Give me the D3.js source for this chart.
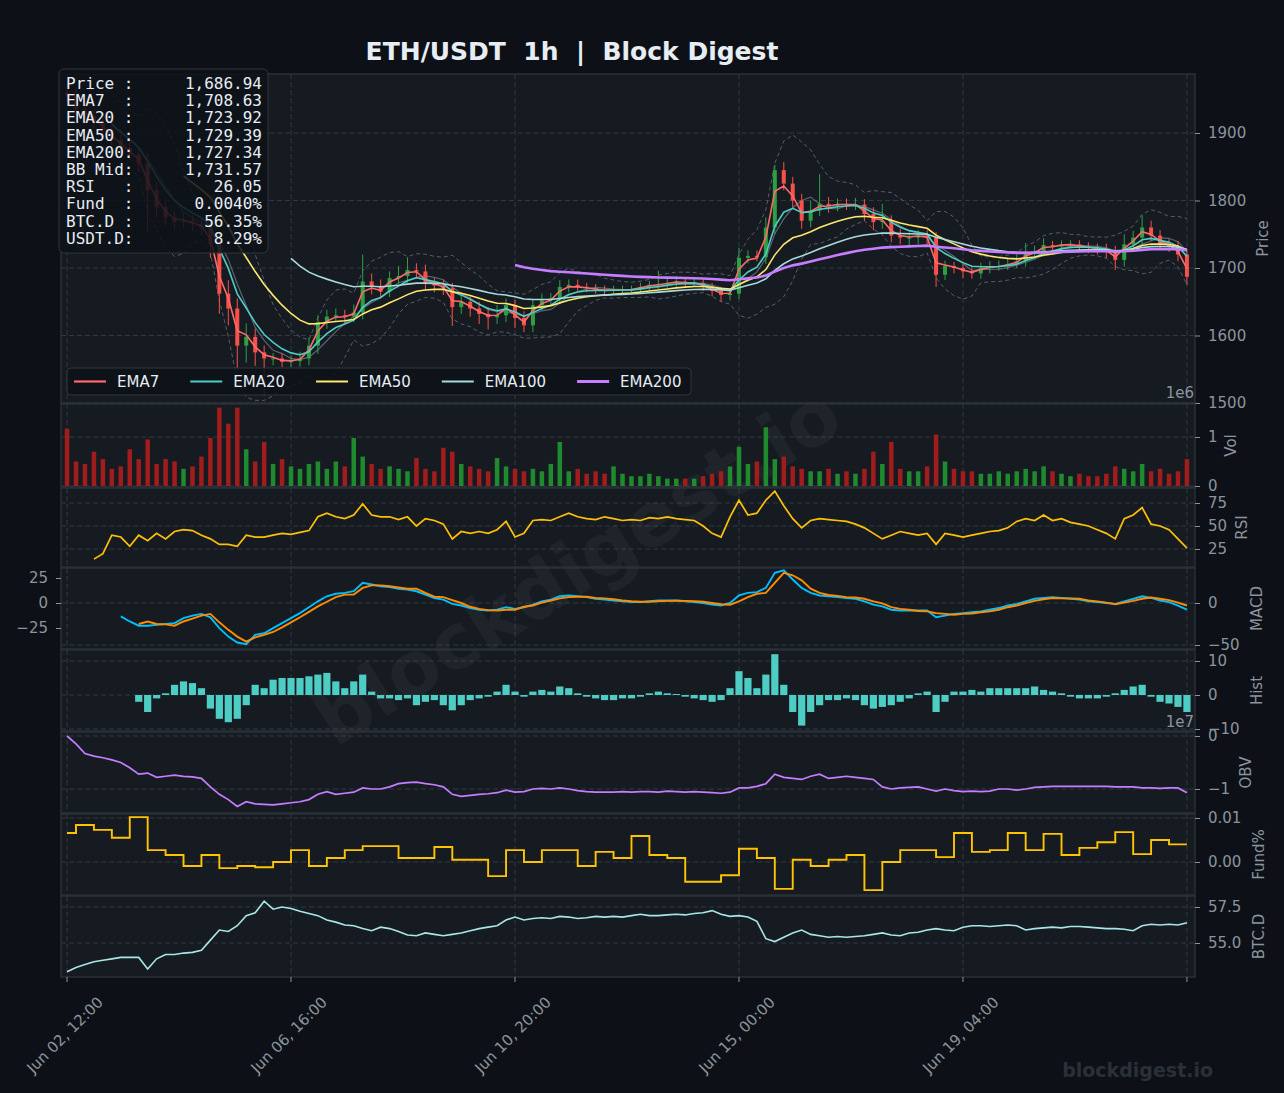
<!DOCTYPE html>
<html>
<head>
<meta charset="utf-8">
<title>ETH/USDT 1h | Block Digest</title>
<script src="https://cdn.jsdelivr.net/npm/d3@7/dist/d3.min.js"></script>
<style>
  body { margin: 0; background: #0d1117; }
  svg text { font-family: "DejaVu Sans", sans-serif; }
  svg text.mono { font-family: "DejaVu Sans Mono", monospace; }
</style>
</head>
<body>
<div id="chart"></div>
<script>
// ---- data, one sample every 4 hours from Jun 02 12:00 ----
var firstOpen = 1960;
var closes = [
  1955,1935,1925,1915,1905,1890,1878,1868,1855,1815,
  1790,1775,1768,1770,1765,1760,1735,1662,1640,1585,
  1598,1575,1566,1566,1561,1562,1566,1585,1620,1628,
  1630,1628,1634,1680,1673,1665,1685,1688,1697,1695,
  1677,1674,1670,1642,1650,1640,1632,1627,1630,1645,
  1626,1615,1645,1652,1655,1672,1675,1672,1670,1668,
  1666,1668,1668,1668,1672,1675,1676,1678,1680,1678,
  1678,1672,1666,1660,1662,1715,1718,1716,1760,1845,
  1825,1800,1770,1785,1795,1792,1795,1794,1794,1780,
  1768,1770,1748,1745,1745,1748,1745,1690,1703,1700,
  1695,1692,1700,1702,1703,1706,1710,1722,1725,1734,
  1732,1735,1735,1732,1730,1728,1725,1712,1735,1745,
  1760,1748,1735,1732,1720,1687
];
var wickUp = [
  10,12,8,10,8,10,8,10,10,15, 12,10,10,12,8,10,8,15,20,15,
  20,12,10,8,8,8,10,12,10,10, 10,8,12,40,12,10,10,15,19,10,
  10,8,8,8,10,8,10,10,15,10, 8,10,8,10,8,10,8,8,6,6,
  6,6,6,6,6,6,20,8,8,6, 6,6,6,6,6,15,8,8,15,8,
  12,10,10,15,44,10,8,8,10,8, 10,25,8,10,8,8,8,8,8,6,
  6,8,8,8,8,8,10,15,8,10, 6,6,6,6,6,6,8,8,15,10,
  18,10,8,8,8,8
];
var wickDn = [
  8,8,10,8,10,8,10,8,12,60, 15,12,10,8,10,12,20,30,25,35,
  25,20,55,10,8,8,8,10,12,10, 8,10,8,10,12,10,8,8,10,10,
  10,10,10,28,10,12,15,18,10,10, 15,10,10,8,8,8,8,6,6,6,
  6,6,6,6,6,6,6,6,6,6, 6,6,8,10,8,8,8,6,10,10,
  10,10,12,10,8,10,8,8,8,10, 12,10,10,10,12,10,10,18,8,8,
  10,8,8,8,6,6,6,8,8,8, 8,6,6,8,8,8,10,15,10,8,
  10,8,8,8,10,12
];
// volume, millions
var volume = [
  1.17,0.5,0.45,0.7,0.55,0.35,0.4,0.75,0.55,0.95,
  0.45,0.55,0.5,0.35,0.4,0.6,0.98,1.6,1.27,1.6,
  0.75,0.5,0.9,0.45,0.55,0.4,0.35,0.45,0.5,0.35,
  0.5,0.4,0.98,0.6,0.45,0.35,0.4,0.35,0.3,0.57,
  0.35,0.3,0.78,0.7,0.45,0.4,0.35,0.3,0.57,0.4,
  0.35,0.3,0.35,0.3,0.45,0.9,0.3,0.35,0.25,0.3,
  0.25,0.4,0.25,0.2,0.2,0.25,0.2,0.15,0.15,0.15,
  0.15,0.2,0.25,0.3,0.4,0.8,0.45,0.5,1.2,0.55,
  0.6,0.4,0.35,0.3,0.3,0.35,0.25,0.3,0.25,0.35,
  0.7,0.45,0.9,0.35,0.3,0.3,0.4,1.05,0.5,0.35,
  0.3,0.3,0.25,0.25,0.3,0.25,0.3,0.35,0.3,0.4,
  0.3,0.25,0.2,0.25,0.2,0.2,0.25,0.4,0.35,0.3,
  0.45,0.3,0.35,0.25,0.3,0.55
];
var rsi = [
  null,null,null,14,20,40,38,28,40,34,
  42,36,44,46,45,40,36,30,30,28,
  40,38,38,40,42,41,43,45,60,64,
  60,58,62,74,62,60,60,57,60,50,
  58,56,52,36,44,42,44,42,46,55,
  38,42,56,57,56,60,64,60,58,57,
  60,58,56,57,56,59,58,60,58,57,
  56,50,42,38,60,78,62,64,78,88,
  72,58,48,56,58,57,56,55,52,48,
  42,36,40,44,42,40,42,30,42,40,
  38,40,42,44,45,48,55,58,56,62,
  56,58,54,52,50,46,42,36,58,62,
  70,52,50,46,36,26
];
var macd = [
  null,null,null,null,null,null,-16,-22,-27,-27,
  -26,-25,-24,-18,-15,-13,-17,-30,-40,-47,
  -49,-38,-36,-30,-24,-18,-12,-5,2,8,
  11,12,14,24,22,20,19,17,16,14,
  10,6,4,-1,-3,-6,-8,-9,-8,-5,
  -7,-5,-2,2,4,8,9,8,7,5,
  4,3,2,1,1,2,3,3,3,2,
  1,0,-2,-3,0,9,12,13,18,36,
  39,28,18,12,9,8,7,6,5,2,
  -2,-4,-8,-9,-9,-9,-9,-17,-15,-13,
  -12,-11,-10,-8,-6,-3,-1,2,5,6,
  7,6,5,4,2,1,0,-1,2,5,
  8,6,3,1,-3,-8
];
var hist = [
  null,null,null,null,null,null,null,null,-2,-5,
  -1,0.5,3,4,3.5,2,-4,-7,-8,-7,
  -3,3,2,4.5,5,5,5,5.5,6,6.5,
  4,2,4,6,1,-1,-1,-1.5,-1,-3,
  -2,-1.5,-3,-4.5,-3,-1.5,-1,-0.5,1,3,
  1,-0.5,1,1.5,1,2.5,2,0.5,-0.5,-1,
  -1.5,-1.5,-1,-1,-0.5,0.5,1,0.5,0.3,-0.5,
  -1,-1.5,-2,-1.5,2,7,5,2,6,12,
  3,-5,-9,-5,-3,-1.5,-1.5,-1,-1.5,-3,
  -4,-3.5,-3,-2,-1,0.5,1,-5,-2,1,
  1,1.5,1,2,2,2,2,2,2.5,1.5,
  1,0.5,-0.5,-1,-1,-1,-0.5,0.5,1.5,2.5,
  3,-0.5,-2,-2.5,-3.5,-5
];
// on-balance volume, 1e7
var obv = [
  0,-0.15,-0.33,-0.38,-0.41,-0.45,-0.5,-0.6,-0.72,-0.7,
  -0.78,-0.76,-0.74,-0.76,-0.77,-0.8,-0.96,-1.1,-1.2,-1.33,
  -1.24,-1.28,-1.29,-1.3,-1.28,-1.26,-1.24,-1.2,-1.1,-1.05,
  -1.1,-1.08,-1.06,-0.98,-1.0,-1.0,-0.96,-0.9,-0.88,-0.87,
  -0.9,-0.92,-0.96,-1.1,-1.14,-1.12,-1.1,-1.09,-1.07,-1.02,
  -1.06,-1.05,-1.0,-0.99,-1.0,-0.98,-1.0,-1.03,-1.05,-1.06,
  -1.06,-1.06,-1.05,-1.06,-1.05,-1.05,-1.06,-1.04,-1.05,-1.06,
  -1.05,-1.06,-1.07,-1.08,-1.06,-0.98,-0.98,-0.95,-0.9,-0.72,
  -0.78,-0.8,-0.82,-0.76,-0.72,-0.8,-0.78,-0.76,-0.78,-0.8,
  -0.82,-0.96,-1.0,-0.98,-0.97,-0.96,-1.0,-1.04,-1.0,-1.03,
  -1.05,-1.04,-1.05,-1.04,-1.0,-1.0,-1.02,-1.0,-0.97,-0.96,
  -0.95,-0.95,-0.95,-0.95,-0.95,-0.95,-0.95,-0.96,-0.96,-0.96,
  -0.98,-0.98,-0.99,-0.98,-0.98,-1.07
];
var btcDom = [
  53.0,53.3,53.5,53.7,53.8,53.9,54.0,54.0,54.0,53.2,
  53.9,54.2,54.2,54.3,54.35,54.5,55.2,55.9,55.8,56.2,
  56.9,57.1,57.9,57.35,57.5,57.4,57.2,57.05,56.9,56.6,
  56.45,56.25,56.2,56.0,55.85,56.1,56.0,55.8,55.55,55.5,
  55.7,55.6,55.5,55.6,55.7,55.85,56.0,56.1,56.2,56.6,
  56.8,56.6,56.7,56.75,56.7,56.85,56.8,56.7,56.75,56.85,
  56.8,56.85,56.8,56.9,57.0,56.9,56.9,56.95,57.0,56.95,
  57.05,57.1,57.25,57.0,56.85,56.9,56.8,56.5,55.3,55.1,
  55.4,55.7,55.9,55.6,55.5,55.4,55.45,55.4,55.45,55.5,
  55.6,55.7,55.55,55.5,55.7,55.75,55.9,56.0,55.9,55.85,
  56.1,56.2,56.2,56.15,56.2,56.25,56.2,55.9,56.0,56.05,
  56.1,56.05,56.15,56.15,56.1,56.05,56.0,56.0,55.95,55.85,
  56.2,56.3,56.25,56.3,56.25,56.4
];
// funding rate (%), one value per 8h window
var funding = [
  0.0066,0.0084,0.0073,0.0055,0.0102,0.0027,0.0016,-0.0009,0.0016,-0.0014,
  -0.0009,-0.0012,0.0000,0.0027,-0.0009,0.0009,0.0027,0.0036,0.0036,0.0009,
  0.0009,0.0034,0.0005,0.0005,-0.0032,0.0027,0.0000,0.0027,0.0027,-0.0009,
  0.0023,0.0009,0.0059,0.0016,0.0009,-0.0045,-0.0045,-0.0030,0.0030,0.0009,
  -0.0061,0.0005,-0.0009,0.0005,0.0016,-0.0064,0.0000,0.0027,0.0027,0.0011,
  0.0066,0.0023,0.0027,0.0066,0.0027,0.0064,0.0016,0.0032,0.0045,0.0068,
  0.0018,0.0050,0.0040
];
var emaPeriods = [7, 20, 50, 100, 200];
var emaNames = ['EMA7', 'EMA20', 'EMA50', 'EMA100', 'EMA200'];
var xTickHours = [0, 100, 200, 300, 400, 500];
var infoLabels = ['Price :', 'EMA7  :', 'EMA20 :', 'EMA50 :', 'EMA200:', 'BB Mid:', 'RSI   :', 'Fund  :', 'BTC.D :', 'USDT.D:'];
var infoValues = ['1,686.94', '1,708.63', '1,723.92', '1,729.39', '1,727.34', '1,731.57', '26.05', '0.0040%', '56.35%', '8.29%'];

// ---- layout ----
var W = 1284, H = 1093, left = 61, right = 1195;
var hour = 3600 * 1000, t0 = Date.UTC(2023, 5, 2, 12), stepH = 4;
var times = closes.map(function(d, i) { return new Date(t0 + i * stepH * hour); });
var atHour = function(h) { return new Date(t0 + h * hour); };

var grid = '#353b44', muted = '#8b949e', text = '#e6edf3';
var emaColors = ['#ff6b6b', '#4ecdc4', '#ffe66d', '#a8dadc', '#c77dff'];

var x = d3.scaleUtc()
    .domain([atHour(-2.7), atHour(503.6)])
    .range([left, right]);

var svg = d3.select('#chart').append('svg')
    .attr('width', W)
    .attr('height', H);
svg.append('rect').attr('width', W).attr('height', H).attr('fill', '#0d1117');

var lin = function(d, r) { return d3.scaleLinear().domain(d).range(r); };
var panels = [
  {id: 'price', top: 74, bottom: 403, y: lin([1500, 1900], [403, 133]), ticks: [1500, 1600, 1700, 1800, 1900], fmt: d3.format('d'), label: 'Price', lx: 1263},
  {id: 'vol', top: 404, bottom: 487, y: lin([0, 1], [486, 437]), ticks: [0, 1], fmt: d3.format('d'), label: 'Vol', lx: 1231, offset: '1e6', oy: 398},
  {id: 'rsi', top: 488, bottom: 567, y: lin([25, 75], [549, 503]), ticks: [25, 50, 75], fmt: d3.format('d'), label: 'RSI', lx: 1242},
  {id: 'macd', top: 568, bottom: 649, y: lin([-50, 0], [645, 603]), ticks: [-50, 0], fmt: d3.format('d'), label: 'MACD', lx: 1257},
  {id: 'hist', top: 650, bottom: 731, y: lin([-10, 10], [729, 661]), ticks: [-10, 0, 10], fmt: d3.format('d'), label: 'Hist', lx: 1256.5},
  {id: 'obv', top: 732, bottom: 813, y: lin([-1, 0], [789, 736]), ticks: [-1, 0], fmt: d3.format('d'), label: 'OBV', lx: 1245.5, offset: '1e7', oy: 727},
  {id: 'fund', top: 814, bottom: 895, y: lin([0, 0.01], [862, 818]), ticks: [0, 0.01], fmt: d3.format('.2f'), label: 'Fund%', lx: 1258.5},
  {id: 'btc', top: 896, bottom: 977, y: lin([55, 57.5], [943, 907]), ticks: [55, 57.5], fmt: d3.format('.1f'), label: 'BTC.D', lx: 1258.5}
];
var P = {};
panels.forEach(function(p) { P[p.id] = p; });

// backgrounds + grid
var bgLayer = svg.append('g');
var defs = svg.append('defs');
panels.forEach(function(p) {
  bgLayer.append('rect')
      .attr('x', left).attr('y', p.top)
      .attr('width', right - left).attr('height', p.bottom - p.top)
      .attr('fill', '#161b22');
  defs.append('clipPath').attr('id', 'clip-' + p.id)
    .append('rect')
      .attr('x', left).attr('y', p.top)
      .attr('width', right - left).attr('height', p.bottom - p.top);
  bgLayer.selectAll(null).data(p.ticks).enter().append('line')
      .attr('x1', left).attr('x2', right)
      .attr('y1', function(d) { return p.y(d); })
      .attr('y2', function(d) { return p.y(d); })
      .attr('stroke', grid).attr('stroke-width', 0.9).attr('stroke-dasharray', '5,3');
  bgLayer.selectAll(null).data(xTickHours).enter().append('line')
      .attr('x1', function(d) { return x(atHour(d)); })
      .attr('x2', function(d) { return x(atHour(d)); })
      .attr('y1', p.top).attr('y2', p.bottom)
      .attr('stroke', grid).attr('stroke-width', 0.9).attr('stroke-dasharray', '5,3');
});

// watermark
svg.append('text')
    .attr('transform', 'translate(577,566) rotate(-32)')
    .attr('text-anchor', 'middle')
    .attr('dominant-baseline', 'central')
    .attr('font-weight', 'bold')
    .style('font-size', '76px')
    .attr('fill', '#ffffff')
    .attr('fill-opacity', 0.04)
    .text('blockdigest.io');

var G = {};
panels.forEach(function(p) {
  G[p.id] = svg.append('g').attr('clip-path', 'url(#clip-' + p.id + ')');
});

var lineOf = function(y) {
  return d3.line()
      .defined(function(d) { return d != null; })
      .x(function(d, i) { return x(times[i]); })
      .y(function(d) { return y(d); });
};

// ---- price ----
var opens = closes.map(function(c, i) { return i ? closes[i - 1] : firstOpen; });
var highs = closes.map(function(c, i) { return Math.max(c, opens[i]) + wickUp[i]; });
var lows = closes.map(function(c, i) { return Math.min(c, opens[i]) - wickDn[i]; });

function ema(src, n) {
  var a = 1 - Math.pow(1 - 2 / (n + 1), stepH), e = src[0];
  return src.map(function(v, i) {
    e = i === 0 ? v : a * v + (1 - a) * e;
    return i * stepH >= n - 1 ? e : null;
  });
}

// bollinger 20h window = 5 samples
var bbWin = 5;
var bbMid = [], bbUp = [], bbLo = [];
closes.forEach(function(c, i) {
  if (i < bbWin - 1) { bbMid.push(null); bbUp.push(null); bbLo.push(null); return; }
  var w = [];
  for (var k = i - bbWin + 1; k <= i; k++) w.push(closes[k], highs[k], lows[k]);
  var m = d3.mean(closes.slice(i - bbWin + 1, i + 1)), s = d3.deviation(w);
  bbMid.push(m); bbUp.push(m + 2 * s); bbLo.push(m - 2 * s);
});

var yP = P.price.y, gp = G.price;
[bbUp, bbLo].forEach(function(s) {
  gp.append('path').attr('d', lineOf(yP)(s))
      .attr('fill', 'none').attr('stroke', muted).attr('stroke-opacity', 0.55)
      .attr('stroke-width', 1).attr('stroke-dasharray', '4,3');
});
gp.append('path').attr('d', lineOf(yP)(bbMid))
    .attr('fill', 'none').attr('stroke', muted).attr('stroke-opacity', 0.6).attr('stroke-width', 1.2);

var bw = 4;
var cg = gp.selectAll('.candle').data(closes).enter().append('g');
cg.append('line')
    .attr('x1', function(d, i) { return x(times[i]); })
    .attr('x2', function(d, i) { return x(times[i]); })
    .attr('y1', function(d, i) { return yP(highs[i]); })
    .attr('y2', function(d, i) { return yP(lows[i]); })
    .attr('stroke', function(d, i) { return d >= opens[i] ? '#2ea043' : '#f85149'; })
    .attr('stroke-width', 1);
cg.append('rect')
    .attr('x', function(d, i) { return x(times[i]) - bw / 2; })
    .attr('width', bw)
    .attr('y', function(d, i) { return yP(Math.max(d, opens[i])); })
    .attr('height', function(d, i) { return Math.max(1, Math.abs(yP(d) - yP(opens[i]))); })
    .attr('fill', function(d, i) { return d >= opens[i] ? '#2ea043' : '#f85149'; });

emaPeriods.forEach(function(n, k) {
  gp.append('path').attr('d', lineOf(yP)(ema(closes, n)))
      .attr('fill', 'none').attr('stroke', emaColors[k])
      .attr('stroke-width', k === 4 ? 2.6 : 1.6);
});

// ---- volume ----
var yV = P.vol.y, vw = 4.5;
G.vol.selectAll('rect').data(volume).enter().append('rect')
    .attr('x', function(d, i) { return x(times[i]) - vw / 2; })
    .attr('width', vw)
    .attr('y', function(d) { return yV(d); })
    .attr('height', function(d) { return yV(0) - yV(d); })
    .attr('fill', function(d, i) { return closes[i] >= opens[i] ? '#1f8a2e' : '#a11c1c'; });

// ---- RSI ----
G.rsi.append('path').attr('d', lineOf(P.rsi.y)(rsi))
    .attr('fill', 'none').attr('stroke', '#ffc107').attr('stroke-width', 1.7);

// ---- MACD ----
var signal = macd.map(function(m, i) { return m == null || hist[i] == null ? null : m - hist[i]; });
G.macd.append('path').attr('d', lineOf(P.macd.y)(macd))
    .attr('fill', 'none').attr('stroke', '#00bfff').attr('stroke-width', 1.9);
G.macd.append('path').attr('d', lineOf(P.macd.y)(signal))
    .attr('fill', 'none').attr('stroke', '#ff8c00').attr('stroke-width', 1.9);

// ---- histogram ----
var yH = P.hist.y, hw = 7.2;
G.hist.selectAll('rect').data(hist).enter().append('rect')
    .attr('display', function(d) { return d == null ? 'none' : null; })
    .attr('x', function(d, i) { return x(times[i]) - hw / 2; })
    .attr('width', hw)
    .attr('y', function(d) { return Math.min(yH(d || 0), yH(0)); })
    .attr('height', function(d) { return Math.abs(yH(d || 0) - yH(0)); })
    .attr('fill', '#4ecdc4');

// ---- OBV ----
G.obv.append('path').attr('d', lineOf(P.obv.y)(obv))
    .attr('fill', 'none').attr('stroke', '#c77dff').attr('stroke-width', 1.7);

// ---- funding (steps every 8h, offset 4h) ----
var fundPts = funding.map(function(v, k) { return [Math.max(0, 8 * k - 4), v]; });
fundPts.push([500, funding[funding.length - 1]]);
G.fund.append('path')
    .attr('d', d3.line().curve(d3.curveStepAfter)
      .x(function(d) { return x(atHour(d[0])); })
      .y(function(d) { return P.fund.y(d[1]); })(fundPts))
    .attr('fill', 'none').attr('stroke', '#ffc300').attr('stroke-width', 1.9);

// ---- BTC dominance ----
G.btc.append('path').attr('d', lineOf(P.btc.y)(btcDom))
    .attr('fill', 'none').attr('stroke', '#a8e6e6').attr('stroke-width', 1.6);

// ---- frames, axes, labels ----
panels.forEach(function(p) {
  svg.append('rect')
      .attr('x', left).attr('y', p.top)
      .attr('width', right - left).attr('height', p.bottom - p.top)
      .attr('fill', 'none').attr('stroke', '#30363d').attr('stroke-width', 1.2);

  var ax = svg.append('g')
      .attr('transform', 'translate(' + right + ',0)')
      .call(d3.axisRight(p.y).tickValues(p.ticks).tickFormat(p.fmt).tickSize(5).tickPadding(8));
  ax.select('.domain').remove();
  ax.selectAll('line').attr('stroke', muted);
  ax.selectAll('text').attr('fill', muted).style('font-size', '15px');

  svg.append('text')
      .attr('transform', 'translate(' + p.lx + ',' + (p.top + p.bottom) / 2 + ') rotate(-90)')
      .attr('text-anchor', 'middle')
      .attr('dominant-baseline', 'central')
      .attr('fill', muted)
      .style('font-size', '15px')
      .text(p.label);

  if (p.offset) {
    svg.append('text')
        .attr('x', right - 1).attr('y', p.oy)
        .attr('text-anchor', 'end')
        .attr('fill', muted)
        .style('font-size', '15px')
        .text(p.offset);
  }
});

// MACD also carries ticks on the left side
var macdLeft = svg.append('g')
    .attr('transform', 'translate(' + left + ',0)')
    .call(d3.axisLeft(lin([-25, 25], [628, 578])).tickValues([-25, 0, 25]).tickSize(5).tickPadding(8));
macdLeft.select('.domain').remove();
macdLeft.selectAll('line').attr('stroke', muted);
macdLeft.selectAll('text').attr('fill', muted).style('font-size', '15px');

// bottom time axis
var fmtTime = d3.utcFormat('%b %d, %H:%M');
var xb = svg.append('g');
xTickHours.forEach(function(h, i) {
  var px = x(atHour(h));
  xb.append('line')
      .attr('x1', px).attr('x2', px).attr('y1', 977).attr('y2', 982)
      .attr('stroke', muted);
  if (i < xTickHours.length - 1) {
    xb.append('text')
        .attr('transform', 'translate(' + (px - 2) + ',1035) rotate(-45)')
        .attr('text-anchor', 'middle')
        .attr('dominant-baseline', 'central')
        .attr('fill', muted)
        .style('font-size', '15px')
        .text(fmtTime(atHour(h)));
  }
});

// legend
var lg = svg.append('g');
lg.append('rect')
    .attr('x', 67).attr('y', 368).attr('width', 624).attr('height', 27).attr('rx', 4)
    .attr('fill', '#0d1117').attr('fill-opacity', 0.85)
    .attr('stroke', '#30363d');
var cursor = 74;
emaNames.forEach(function(name, k) {
  lg.append('line')
      .attr('x1', cursor).attr('x2', cursor + 32).attr('y1', 381.5).attr('y2', 381.5)
      .attr('stroke', emaColors[k]).attr('stroke-width', k === 4 ? 3 : 2.2);
  var t = lg.append('text')
      .attr('x', cursor + 43).attr('y', 381.5)
      .attr('dominant-baseline', 'central')
      .attr('fill', text)
      .style('font-size', '15px')
      .text(name);
  cursor = cursor + 43 + t.node().getComputedTextLength() + 31;
});

// info box
var ib = svg.append('g');
ib.append('rect')
    .attr('x', 59).attr('y', 69).attr('width', 209).attr('height', 184).attr('rx', 5)
    .attr('fill', '#0d1117').attr('fill-opacity', 0.85)
    .attr('stroke', '#30363d');
infoLabels.forEach(function(lab, k) {
  var yy = 89 + k * 17.2;
  ib.append('text').attr('class', 'mono')
      .attr('x', 66).attr('y', yy)
      .attr('xml:space', 'preserve')
      .style('white-space', 'pre')
      .attr('fill', text)
      .style('font-size', '16px')
      .text(lab);
  ib.append('text').attr('class', 'mono')
      .attr('x', 262).attr('y', yy)
      .attr('text-anchor', 'end')
      .attr('fill', text)
      .style('font-size', '16px')
      .text(infoValues[k]);
});

// title + footer
svg.append('text')
    .attr('x', 572).attr('y', 60)
    .attr('text-anchor', 'middle')
    .attr('xml:space', 'preserve')
    .style('white-space', 'pre')
    .attr('font-weight', 'bold')
    .attr('fill', text)
    .style('font-size', '25px')
    .text('ETH/USDT  1h  |  Block Digest');

svg.append('text')
    .attr('x', 1213).attr('y', 1077)
    .attr('text-anchor', 'end')
    .attr('font-weight', 'bold')
    .attr('fill', '#2a3038')
    .style('font-size', '19px')
    .text('blockdigest.io');
</script>
</body>
</html>
